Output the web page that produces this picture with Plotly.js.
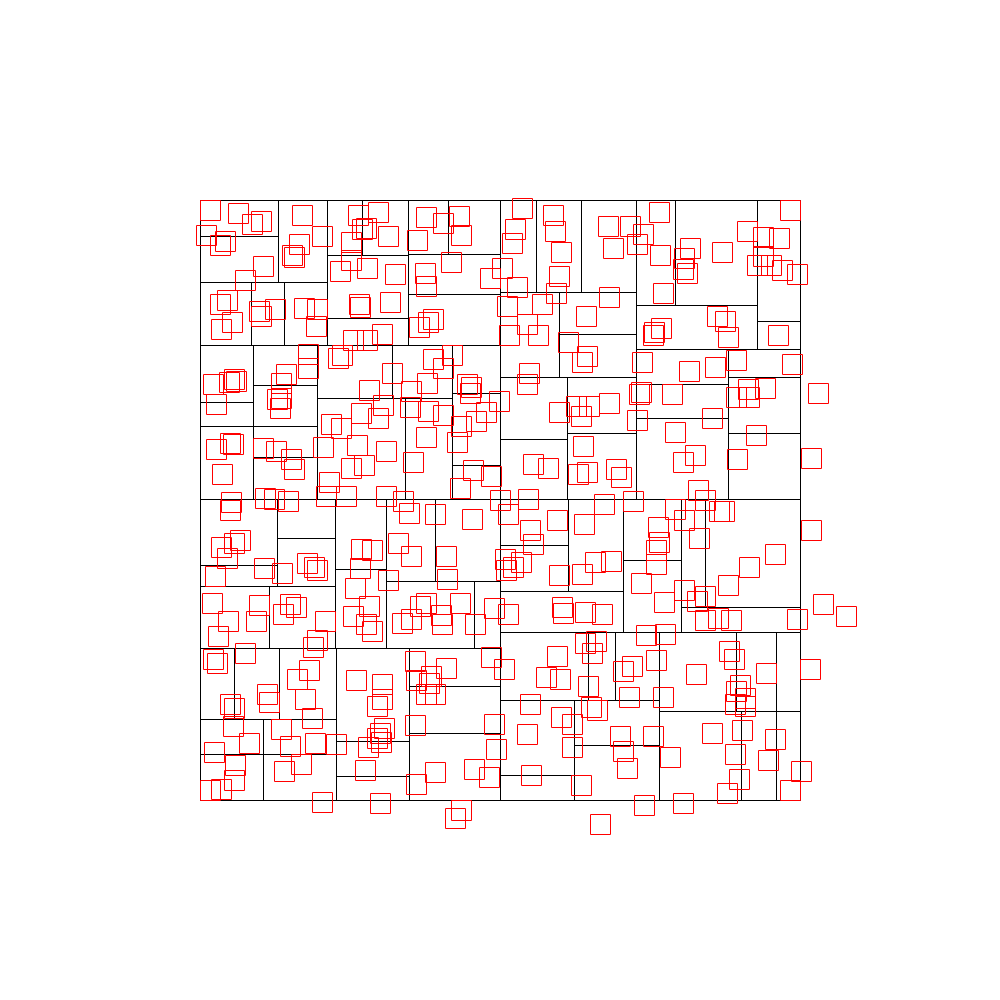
<!DOCTYPE html>
<html><head><meta charset="utf-8">
<script src="https://cdn.plot.ly/plotly-3.0.1.min.js"></script>
<style>html,body{margin:0;padding:0;background:#fff}</style></head>
<body><div id="chart" style="width:1000px;height:1000px"></div>
<script>
// point centres (data units, y measured downward)
const pointX = [10,38,52,61,6,25,20,63,45,102,122,99,92,94,158,178,162,166,188,151,151,140,167,195,159,160,190,20,27,32,21,59,61,75,104,117,116,153,167,182,108,108,138,142,192,169,183,86,81,77,81,80,13,29,34,36,16,
161,178,131,141,157,186,123,151,164,129,126,146,186,16,30,33,22,63,76,91,94,65,74,88,31,30,21,34,40,27,15,64,82,107,114,117,161,172,160,155,169,188,198,12,28,59,56,90,96,83,125,153,166,
18,172,202,117,113,45,13,17,109,97,105,67,69,30,34,112,33,49,14,81,90,115,136,101,84,35,34,10,21,122,156,182,182,177,184,180,177,181,168,165,180,
211,220,226,241,242,260,275,294,308,362,363,385,402,215,216,231,229,246,226,235,291,304,215,294,296,274,289,235,216,261,255,400,357,346,360,385,396,392,388,391,397,330,361,372,327,372,331,381,
505,518,531,597,623,646,446,465,423,432,456,429,463,496,529,534,566,610,540,536,545,535,545,420,423,427,453,470,512,542,535,575,568,601,590,539,527,444,483,
210,228,243,270,286,299,276,261,257,226,213,273,291,260,203,209,235,272,300,308,328,357,330,333,211,246,247,305,306,313,321,359,382,395,411,384,404,359,376,389,381,409,383,378,387,416,421,333,348,
439,441,472,536,549,548,565,618,437,512,475,556,495,483,537,611,498,505,433,475,484,519,524,458,459,456,456,499,441,464,484,497,505,528,549,575,611,
226,243,259,261,217,251,225,226,290,302,317,322,315,312,353,355,361,359,356,408,409,307,327,342,309,338,386,368,387,382,329,327,233,252,243,227,211,267,271,219,228,233,
459,430,443,437,413,460,463,490,484,483,487,522,547,563,579,563,557,571,582,597,590,517,525,528,461,454,453,578,442,489,515,536,592];
const pointY = [10,13,24,21,35,41,45,66,80,15,36,44,55,57,15,12,29,28,36,42,60,71,68,74,104,107,102,104,100,122,129,111,116,109,108,109,126,140,140,134,154,168,158,155,173,190,205,174,183,199,198,208,184,182,179,181,204,
213,218,224,228,245,251,247,268,265,282,296,296,296,249,243,244,274,248,251,259,269,298,299,301,302,310,347,343,340,358,376,368,373,363,367,370,349,350,368,388,406,380,343,403,421,405,421,404,407,414,421,416,424,
436,431,423,440,447,453,459,463,470,479,499,494,502,504,508,518,526,543,552,529,546,543,544,564,571,565,580,590,589,602,480,484,499,506,528,533,538,542,547,570,603,
419,406,403,415,424,403,424,408,414,407,413,412,414,461,480,476,483,468,494,494,457,469,525,524,549,569,577,572,584,610,618,624,456,477,479,443,441,453,486,507,510,504,517,524,534,547,575,585,
420,418,420,419,404,416,435,434,471,466,460,497,497,474,451,459,473,469,485,491,498,504,506,536,551,568,536,557,533,530,554,539,560,571,590,579,593,605,603,
207,211,215,193,212,201,221,226,242,237,262,270,276,288,301,313,314,319,300,314,299,320,330,344,356,356,379,359,370,367,362,375,374,362,361,324,304,212,206,206,216,203,246,274,272,269,277,264,268,
194,192,194,197,197,189,188,193,220,218,232,235,255,262,259,258,290,300,301,309,320,311,311,327,342,350,364,338,383,402,390,401,396,385,367,354,330,
17,23,16,35,40,62,73,86,78,68,87,8,29,43,15,31,52,76,93,26,97,106,124,104,135,135,116,142,156,162,173,184,159,155,168,183,191,184,187,127,122,119,
12,26,34,44,48,55,93,48,58,69,73,52,31,37,38,56,65,65,70,74,10,116,121,137,128,132,135,135,162,171,167,160,164];

// horizontal partition segments: y, x start, x end
const hLineY  = [0,600,36,82,55,118,54,94,145,92,134,177,105,121,149,177,184,218,233,233,239,202,226,185,257,198,193,265,299,365,386,338,369,381,448,345,391,360,407,432,519,554,541,576,486,533,500,575,545,511];
const hLineX0 = [0,0,0,0,127,127,208,208,0,300,359,300,436,557,436,528,436,436,528,367,300,0,0,53,53,117,252,252,0,0,0,77,135,186,0,300,300,423,481,300,0,0,136,136,209,209,300,300,374,459];
const hLineX1 = [600,600,78,127,208,208,300,300,300,436,436,436,557,600,600,600,528,528,600,436,367,53,117,117,117,252,300,300,600,77,135,135,186,300,300,368,423,481,600,600,136,136,209,209,300,300,459,374,459,600];

// vertical partition segments: x, y start, y end
const vLineX  = [0,600,78,127,162,208,248,300,51,84,336,381,436,475,557,359,367,528,53,117,192,205,252,77,135,186,235,274,69,368,423,481,505,34,79,136,63,209,388,415,374,459,536,576,541];
const vLineY0 = [0,0,0,0,0,0,0,0,82,82,0,0,0,0,0,92,177,149,145,145,145,198,145,299,299,299,299,381,386,299,299,299,299,448,448,448,519,448,432,432,500,432,432,432,511];
const vLineY1 = [600,600,82,145,55,145,54,600,145,145,92,92,299,105,149,177,299,299,299,299,198,299,299,386,448,448,381,448,448,391,432,432,407,519,519,600,600,600,500,500,600,600,511,600,600];

const lx = [], ly = [];
for (let i = 0; i < hLineY.length; i++) { lx.push(hLineX0[i], hLineX1[i], null); ly.push(hLineY[i], hLineY[i], null); }
for (let i = 0; i < vLineX.length; i++) { lx.push(vLineX[i], vLineX[i], null); ly.push(vLineY0[i], vLineY1[i], null); }

const traces = [
  {type:'scatter', mode:'lines', x:lx, y:ly, connectgaps:false,
   line:{color:'#000000', width:1}, hoverinfo:'skip'},
  {type:'scatter', mode:'markers', x:pointX, y:pointY,
   marker:{symbol:'square-open', size:20, color:'#ff0000', opacity:1, line:{width:1}}}
];
const layout = {
  width:1000, height:1000, showlegend:false,
  margin:{l:0, r:0, t:0, b:0, pad:0},
  paper_bgcolor:'#ffffff', plot_bgcolor:'#ffffff',
  xaxis:{range:[-200.5,799.5], visible:false, showgrid:false, zeroline:false},
  yaxis:{range:[799.5,-200.5], visible:false, showgrid:false, zeroline:false}
};
Plotly.newPlot('chart', traces, layout, {staticPlot:true, displayModeBar:false});
</script></body></html>
